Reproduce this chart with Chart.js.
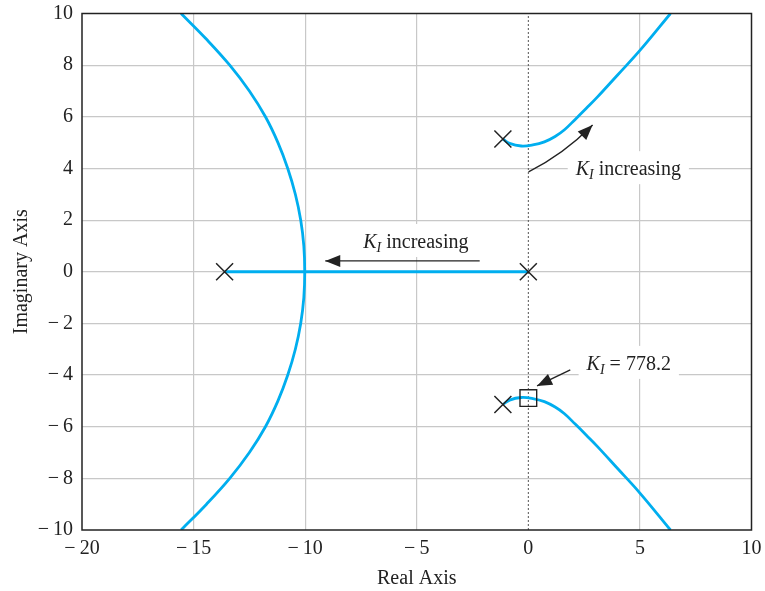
<!DOCTYPE html>
<html>
<head>
<meta charset="utf-8">
<script src="https://cdn.jsdelivr.net/npm/chart.js@4.4.1/dist/chart.umd.min.js"></script>
<style>
  html, body { margin: 0; padding: 0; background: #fff; }
  #wrap { width: 765px; height: 591px; }
</style>
</head>
<body>
<div id="wrap"><canvas id="locusChart"></canvas></div>
<script>
// axis ticks
const xTicks = [-20, -15, -10, -5, 0, 5, 10];
const yTicks = [-10, -8, -6, -4, -2, 0, 2, 4, 6, 8, 10];

// open-loop poles (x marks)
const poleRe = [-13.61, 0, -1.14, -1.14];
const poleIm = [0, 0, 5.14, -5.14];

// real axis segment between the two real poles
const realSegRe = [-13.61, 0];
const realSegIm = [0, 0];

// left branch, top to bottom through the breakaway point
const leftRe = [-15.56, -14.42, -13.38, -12.5, -11.78, -11.22, -10.78, -10.44, -10.2, -10.06, -10.02,
                -10.06, -10.2, -10.44, -10.78, -11.22, -11.78, -12.5, -13.38, -14.42, -15.56];
const leftIm = [10, 9, 8, 7, 6, 5, 4, 3, 2, 1, 0, -1, -2, -3, -4, -5, -6, -7, -8, -9, -10];

// branches leaving the complex poles
const upperRe = [-1.14, -0.84, -0.32, 0.2, 0.72, 1.2, 1.62, 2.1, 2.6, 3.1, 4.0, 5.0, 6.37];
const upperIm = [5.14, 4.97, 4.87, 4.91, 5.03, 5.24, 5.5, 5.9, 6.33, 6.77, 7.62, 8.57, 10];
const lowerRe = [-1.14, -0.84, -0.32, 0.2, 0.72, 1.2, 1.62, 2.1, 2.6, 3.1, 4.0, 5.0, 6.37];
const lowerIm = [-5.14, -4.97, -4.87, -4.91, -5.03, -5.24, -5.5, -5.9, -6.33, -6.77, -7.62, -8.57, -10];

// marked gain point
const gainRe = [0];
const gainIm = [-4.89];
const gainValue = '778.2';

// imaginary axis (dotted)
const imAxisRe = [0, 0];
const imAxisIm = [-10, 10];

const pts = (re, im) => re.map((x, i) => ({ x: x, y: im[i] }));
const blue = '#00aeef';
const ink = '#222';
const serif = '"Liberation Serif", "DejaVu Serif", serif';

const fmt = v => (v < 0 ? '\u2212\u2009' + Math.abs(v) : String(v));

// text and arrows placed in data units
const notes = [
  { x: -5.04, y: 0.92, rest: ' increasing' },
  { x: 4.48, y: 3.74, rest: ' increasing' },
  { x: 4.5, y: -3.8, rest: ' = ' + gainValue }
];
const arrows = [
  { from: [-2.18, 0.42], to: [-9.1, 0.42] },
  { from: [0.01, 3.87], ctrl: [1.54, 4.52], to: [2.88, 5.68] },
  { from: [1.88, -3.8], to: [0.39, -4.42] }
];

const drawHead = (ctx, x, y, ang) => {
  const len = 15, half = 6;
  ctx.beginPath();
  ctx.moveTo(x, y);
  ctx.lineTo(x - len * Math.cos(ang) + half * Math.sin(ang), y - len * Math.sin(ang) - half * Math.cos(ang));
  ctx.lineTo(x - len * Math.cos(ang) - half * Math.sin(ang), y - len * Math.sin(ang) + half * Math.cos(ang));
  ctx.closePath();
  ctx.fill();
};

const notesPlugin = {
  id: 'notes',
  afterDatasetsDraw(chart) {
    const { ctx, scales: { x, y } } = chart;
    ctx.save();
    // K_I labels with white boxes
    notes.forEach(n => {
      const px = x.getPixelForValue(n.x), py = y.getPixelForValue(n.y);
      ctx.font = 'italic 20px ' + serif;
      const wK = ctx.measureText('K').width;
      ctx.font = 'italic 14px ' + serif;
      const wI = ctx.measureText('I').width;
      ctx.font = '20px ' + serif;
      const wR = ctx.measureText(n.rest).width;
      const w = wK + wI + wR;
      const left = px - w / 2;
      ctx.fillStyle = '#fff';
      ctx.fillRect(left - 8, py - 24, w + 16, 33);
      ctx.fillStyle = ink;
      ctx.textBaseline = 'alphabetic';
      ctx.textAlign = 'left';
      ctx.font = 'italic 20px ' + serif;
      ctx.fillText('K', left, py);
      ctx.font = 'italic 14px ' + serif;
      ctx.fillText('I', left + wK, py + 4);
      ctx.font = '20px ' + serif;
      ctx.fillText(n.rest, left + wK + wI, py);
    });
    // arrows
    ctx.strokeStyle = ink;
    ctx.fillStyle = ink;
    ctx.lineWidth = 1.4;
    arrows.forEach(a => {
      const x0 = x.getPixelForValue(a.from[0]), y0 = y.getPixelForValue(a.from[1]);
      const x1 = x.getPixelForValue(a.to[0]), y1 = y.getPixelForValue(a.to[1]);
      ctx.beginPath();
      ctx.moveTo(x0, y0);
      let ang;
      if (a.ctrl) {
        const cx = x.getPixelForValue(a.ctrl[0]), cy = y.getPixelForValue(a.ctrl[1]);
        ctx.quadraticCurveTo(cx, cy, x1, y1);
        ang = Math.atan2(y1 - cy, x1 - cx);
      } else {
        ctx.lineTo(x1, y1);
        ang = Math.atan2(y1 - y0, x1 - x0);
      }
      ctx.stroke();
      drawHead(ctx, x1, y1, ang);
    });
    ctx.restore();
  },
  afterDraw(chart) {
    const { ctx, chartArea: a } = chart;
    ctx.save();
    ctx.strokeStyle = ink;
    ctx.lineWidth = 1.5;
    ctx.strokeRect(a.left, a.top, a.right - a.left, a.bottom - a.top);
    ctx.restore();
  }
};

new Chart(document.getElementById('locusChart'), {
  type: 'scatter',
  data: {
    datasets: [
      {
        label: 'imag axis',
        data: pts(imAxisRe, imAxisIm),
        showLine: true,
        borderColor: '#555',
        borderWidth: 1,
        borderDash: [2, 2],
        pointRadius: 0,
        order: 9
      },
      {
        label: 'real segment',
        data: pts(realSegRe, realSegIm),
        showLine: true,
        borderColor: blue,
        borderWidth: 2.8,
        pointRadius: 0,
        order: 5
      },
      {
        label: 'left branch',
        data: pts(leftRe, leftIm),
        showLine: true,
        borderColor: blue,
        borderWidth: 2.8,
        tension: 0.4,
        pointRadius: 0,
        order: 5
      },
      {
        label: 'upper branch',
        data: pts(upperRe, upperIm),
        showLine: true,
        borderColor: blue,
        borderWidth: 2.8,
        tension: 0.4,
        pointRadius: 0,
        order: 5
      },
      {
        label: 'lower branch',
        data: pts(lowerRe, lowerIm),
        showLine: true,
        borderColor: blue,
        borderWidth: 2.8,
        tension: 0.4,
        pointRadius: 0,
        order: 5
      },
      {
        label: 'poles',
        data: pts(poleRe, poleIm),
        pointStyle: 'crossRot',
        pointRadius: 12,
        pointHoverRadius: 12,
        borderColor: ink,
        borderWidth: 1.5,
        order: 1
      },
      {
        label: 'gain',
        data: pts(gainRe, gainIm),
        pointStyle: 'rect',
        pointRadius: 11.8,
        pointHoverRadius: 11.8,
        backgroundColor: 'rgba(0,0,0,0)',
        borderColor: ink,
        borderWidth: 1.4,
        order: 1
      }
    ]
  },
  options: {
    responsive: true,
    maintainAspectRatio: false,
    animation: false,
    events: [],
    layout: { padding: { top: 13, right: 10, left: 0, bottom: 0 } },
    plugins: {
      legend: { display: false },
      tooltip: { enabled: false }
    },
    scales: {
      x: {
        type: 'linear',
        min: xTicks[0],
        max: xTicks[xTicks.length - 1],
        afterBuildTicks: s => { s.ticks = xTicks.map(v => ({ value: v })); },
        afterFit: s => { s.height = 61; s.paddingLeft = 0; s.paddingRight = 0; },
        border: { display: false },
        grid: {
          color: c => (c.tick.value === 0 || c.tick.value === -20 || c.tick.value === 10) ? 'rgba(0,0,0,0)' : '#c8c8c8',
          lineWidth: 1.2,
          drawTicks: false
        },
        ticks: {
          callback: v => fmt(v),
          color: ink,
          padding: 7,
          maxRotation: 0,
          font: { family: serif, size: 20 }
        },
        title: {
          display: true,
          text: 'Real Axis',
          color: ink,
          padding: { top: 3, bottom: 0 },
          font: { family: serif, size: 20 }
        }
      },
      y: {
        type: 'linear',
        min: yTicks[0],
        max: yTicks[yTicks.length - 1],
        afterBuildTicks: s => { s.ticks = yTicks.map(v => ({ value: v })); },
        afterFit: s => { s.width = 82; s.paddingTop = 0; s.paddingBottom = 0; },
        border: { display: false },
        grid: {
          color: c => (c.tick.value === -10 || c.tick.value === 10) ? 'rgba(0,0,0,0)' : '#c8c8c8',
          lineWidth: 1.2,
          drawTicks: false
        },
        ticks: {
          callback: v => fmt(v),
          color: ink,
          padding: 9,
          font: { family: serif, size: 20 }
        },
        title: {
          display: true,
          text: 'Imaginary Axis',
          color: ink,
          padding: { top: 10, bottom: 0 },
          font: { family: serif, size: 20 }
        }
      }
    }
  },
  plugins: [notesPlugin]
});
</script>
</body>
</html>
